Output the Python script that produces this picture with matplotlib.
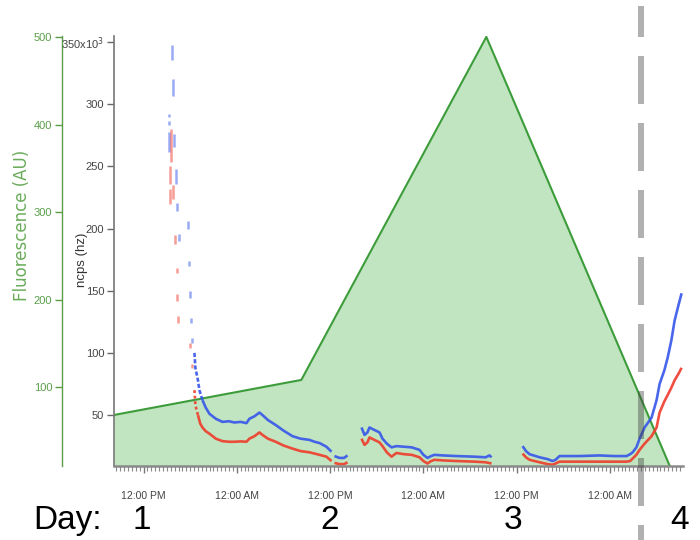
import matplotlib
matplotlib.use('Agg')
import matplotlib.pyplot as plt
from matplotlib.ticker import FixedLocator, MultipleLocator, FuncFormatter
from matplotlib.transforms import blended_transform_factory

plt.rcParams['font.family'] = ['Liberation Sans', 'DejaVu Sans']
plt.rcParams['lines.scale_dashes'] = False

# ---------------- data (time = hours since midnight of day 1) ----------------
fluor_t = [8.2, 32.3, 56.1, 79.7]
fluor_v = [68.6, 108.6, 500.0, 10.4]

# early spike: vertical streaks (time, top, bottom) in ncps x10^3
blue_spike_t = [15.71, 15.84, 15.33, 15.33, 15.33, 15.97, 16.23, 16.36, 17.77, 16.62,
                17.90, 18.03, 18.16, 18.29]
blue_spike_hi = [348, 320, 292, 287, 278, 276, 248, 221, 206, 196, 174, 150, 128, 112]
blue_spike_lo = [336, 307, 290, 283, 262, 266, 236, 214, 200, 190, 170, 144, 124, 108]

red_spike_t = [15.59, 15.46, 15.46, 15.84, 16.10, 16.36, 16.36, 16.49, 18.03, 18.29]
red_spike_hi = [280, 250, 232, 235, 195, 168, 147, 130, 108, 91]
red_spike_lo = [254, 236, 220, 224, 188, 164, 142, 124, 104, 88]

# sparse descent just after the spike
blue_tail_t = [18.55, 18.67, 19.0, 19.19, 19.58]
blue_tail_v = [100, 88, 78, 70, 62]
red_tail_t = [18.55, 18.67, 19.0]
red_tail_v = [70, 58, 50]

# continuous segments
blue_s1_t = [19.58, 20.0, 20.48, 21.3, 22.15, 23.0, 23.69, 24.5,
             25.24, 25.62, 26.27, 26.91, 27.3, 28.0, 29.0, 30.0, 31.16, 32.2, 33.35, 34.0,
             34.63, 35.53, 36.18]
blue_s1_v = [62, 56, 51, 47, 44.5, 45, 44, 44.5,
             43.5, 47, 49, 52, 50, 46, 42, 37.5, 33, 31, 30, 28.5,
             27.5, 24.5, 20.5]
red_s1_t = [19.0, 19.3, 19.58, 20.0, 20.48, 21.3, 22.15, 23.0, 23.69, 24.5, 25.24,
            25.62, 26.27, 26.91, 27.3, 28.0, 29.0, 30.0, 31.16, 32.2, 33.35, 34.0, 34.63,
            35.53, 36.18]
red_s1_v = [50, 43, 40, 37, 35, 31, 29, 28.5, 28.5, 28.8, 28.5,
            31, 33, 36, 34, 31, 28.5, 25.5, 23, 21, 20, 19, 18,
            16.5, 13]

blue_s1b_t = [36.56, 37.2, 37.8, 38.24]
blue_s1b_v = [17, 15.5, 15.5, 17.5]
red_s1b_t = [36.56, 37.2, 37.8, 38.24]
red_s1b_v = [11.5, 10.5, 10.5, 12]

blue_s2_t = [40.04, 40.43, 40.8, 41.07, 41.7, 42.36, 42.74, 43.3, 43.9, 44.54, 45.5, 46.5,
             47.5, 48.0, 48.53, 49.0, 49.43, 50.5, 52.26, 54.58, 56.0, 56.5, 56.77]
blue_s2_v = [40, 34, 36, 40, 38, 36, 31, 27, 24, 25, 24.5, 24,
             22, 18, 15.5, 17, 18, 17.5, 17, 16.5, 16, 17.5, 16]
red_s2_t = [40.04, 40.43, 40.8, 41.07, 41.7, 42.36, 42.74, 43.3, 43.9, 44.54, 45.5, 46.5,
            47.5, 48.0, 48.53, 49.0, 49.43, 50.5, 52.26, 54.58, 56.0, 56.77]
red_s2_v = [31, 26, 28, 32, 30, 28, 25, 20, 16.5, 19.5, 18.5, 18,
            16, 13, 11, 13, 14, 13.5, 13, 12.5, 12, 11]

blue_s3_t = [60.76, 61.2, 61.66, 62.95, 64.0, 64.62, 65.0, 65.52, 66.5, 68.1, 70.67, 72.5,
             74.14, 74.6, 74.92, 75.4, 75.82, 76.46, 77.36, 78.0, 78.39, 79.0, 79.42, 79.9,
             80.32, 80.8, 81.22]
blue_s3_v = [25, 21, 18.5, 16, 14.5, 13, 14, 17, 17, 17, 17.5, 17,
             17, 18.5, 20, 24, 31, 40, 48, 62, 75, 86, 96, 110,
             126, 138, 148]
red_s3_t = [60.76, 61.2, 61.66, 62.95, 64.0, 64.62, 65.0, 65.52, 66.5, 68.1, 70.67, 72.5,
            74.14, 74.6, 74.92, 75.4, 75.82, 76.46, 77.36, 78.0, 78.39, 79.0, 79.42, 79.9,
            80.32, 80.8, 81.22]
red_s3_v = [19, 16, 14, 12, 10.5, 10, 11, 12.5, 12.5, 12.5, 12.5, 12.5,
            12.5, 13, 15, 18, 22, 27, 33, 40, 52, 61, 66, 72,
            78, 83, 88]

xtick_pos = [12, 24, 36, 48, 60, 72]
xtick_labels = ['12:00 PM', '12:00 AM', '12:00 PM', '12:00 AM', '12:00 PM', '12:00 AM']
ncps_ticks = [50, 100, 150, 200, 250, 300, 350]
fluor_ticks = [100, 200, 300, 400, 500]
day_labels = ['1', '2', '3', '4']
marker_time = 75.95

# ---------------- colours ----------------
BLUE = '#3656ea'
RED = '#ef3b2c'
GREEN_TXT = '#5a9e4a'
FILL = '#c1e5c0'
EDGE = '#3c9c3a'
GRAY = '#444444'

fig = plt.figure(figsize=(7.0, 5.4), dpi=100)
ax = fig.add_axes([114 / 700, 1 - 466 / 540, (683 - 114) / 700, (466 - 36) / 540])
ax2 = ax.twinx()

# fluorescence (behind)
ax2.fill_between(fluor_t, fluor_v, 0, color=FILL, lw=0, zorder=1)
ax2.plot(fluor_t, fluor_v, color=EDGE, lw=1.5, zorder=2)
ax2.set_ylim(10.4, 501)
ax2.yaxis.set_ticks_position('left')
ax2.yaxis.set_label_position('left')
ax2.spines['left'].set_position(('outward', 52 * 0.72))
ax2.spines['left'].set_color(GREEN_TXT)
ax2.spines['left'].set_linewidth(1.0)
for s in ['right', 'top', 'bottom']:
    ax2.spines[s].set_visible(False)
ax2.yaxis.set_major_locator(FixedLocator(fluor_ticks))
ax2.tick_params(axis='y', colors=GREEN_TXT, labelcolor=GREEN_TXT, length=5, width=1,
                labelsize=8, pad=2)

# ncps axis (front)
ax.set_zorder(ax2.get_zorder() + 1)
ax.patch.set_visible(False)

def curve(t, v, c, ls='-'):
    ax.plot(t, v, color=c, lw=1.9, alpha=0.9, linestyle=ls, solid_capstyle='butt')

ax.vlines(blue_spike_t, blue_spike_lo, blue_spike_hi, color=BLUE, lw=1.8, alpha=0.5)
ax.vlines(red_spike_t, red_spike_lo, red_spike_hi, color=RED, lw=1.8, alpha=0.5)
curve(blue_tail_t, blue_tail_v, BLUE, ls=(0, (3, 1.5)))
curve(red_tail_t, red_tail_v, RED, ls=(0, (2, 2)))
curve(blue_s1_t, blue_s1_v, BLUE)
curve(red_s1_t, red_s1_v, RED)
curve(blue_s1b_t, blue_s1b_v, BLUE)
curve(red_s1b_t, red_s1b_v, RED)
curve(blue_s2_t, blue_s2_v, BLUE)
curve(red_s2_t, red_s2_v, RED)
curve(blue_s3_t, blue_s3_v, BLUE)
curve(red_s3_t, red_s3_v, RED)

ax.set_xlim(8.2, 81.4)
ax.set_ylim(9.0, 355)
for s in ['right', 'top']:
    ax.spines[s].set_visible(False)
ax.spines['left'].set_color('#777777')
ax.spines['left'].set_linewidth(1.2)
ax.spines['bottom'].set_color('#8a8a8a')
ax.spines['bottom'].set_linewidth(1.8)

ax.yaxis.set_major_locator(FixedLocator(ncps_ticks))
ax.yaxis.set_major_formatter(FuncFormatter(
    lambda v, p: r'350x10$^{3}$' if v == 350 else f'{int(v)}'))
ax.tick_params(axis='y', colors='#666666', labelcolor=GRAY, length=5, width=1,
               labelsize=8, pad=2)

ax.xaxis.set_major_locator(FixedLocator(xtick_pos))
ax.set_xticklabels(xtick_labels)
ax.xaxis.set_minor_locator(MultipleLocator(0.5))
ax.tick_params(axis='x', which='major', colors='#777777', labelcolor=GRAY, length=5,
               width=1, labelsize=7.5, pad=13)
ax.tick_params(axis='x', which='minor', colors='#888888', length=3.5, width=0.8)

# axis titles
fig.text(22 / 700, 1 - 225 / 540, 'Fluorescence (AU)', rotation=90, color='#6aac5a',
         fontsize=12, family=['DejaVu Sans'], ha='center', va='center')
fig.text(82 / 700, 1 - 260 / 540, 'ncps (hz)', rotation=90, color='#333333',
         fontsize=9.5, ha='center', va='center')

# dashed day-4 marker across whole figure
tr = blended_transform_factory(ax.transData, fig.transFigure)
ax.plot([marker_time, marker_time], [1 - 6 / 540, 0], transform=tr, clip_on=False,
        color='#3c3c3c', alpha=0.4, lw=6 * 0.72,
        linestyle=(17 * 0.72, (48 * 0.72, 19 * 0.72)), solid_capstyle='butt',
        dash_capstyle='butt', zorder=10)

# day labels
fig.text(33 / 700, 11 / 540, 'Day:', fontsize=24, ha='left', va='baseline', color='black')
for lab, xp in zip(day_labels, [142, 330, 513, 680]):
    fig.text(xp / 700, 11 / 540, lab, fontsize=24, ha='center', va='baseline', color='black')

fig.savefig('out.png', dpi=100)
